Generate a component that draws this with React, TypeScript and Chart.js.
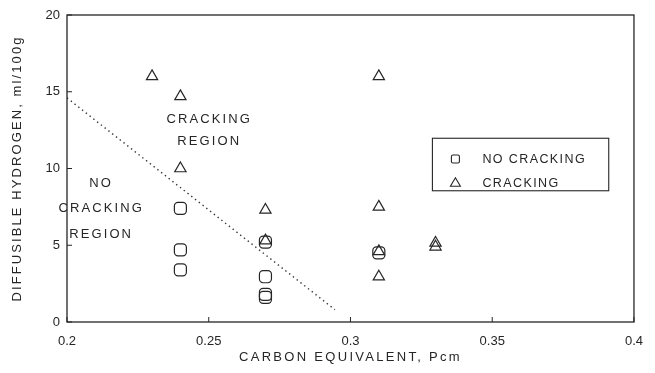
import React, { useEffect, useRef } from "react";
import { Chart, registerables } from "chart.js";

Chart.register(...registerables);

const noCrackX = [0.24, 0.24, 0.24, 0.27, 0.27, 0.27, 0.27, 0.31];
const noCrackY = [7.4, 4.7, 3.4, 5.2, 2.95, 1.8, 1.6, 4.5];
const crackX = [0.23, 0.24, 0.24, 0.27, 0.27, 0.31, 0.31, 0.31, 0.31, 0.33, 0.33];
const crackY = [16, 14.7, 10, 7.3, 5.3, 16, 7.5, 4.6, 2.95, 5.15, 4.9];
const boundaryX = [0.2, 0.2945];
const boundaryY = [14.6, 0.8];
const xTicks = [0.2, 0.25, 0.3, 0.35, 0.4];
const yTicks = [0, 5, 10, 15, 20];
const seriesLabels = ["NO CRACKING", "CRACKING"];

const INK = "#262626";
const FONT = "Liberation Sans, Arial, sans-serif";

const spacingPlugin = {
  id: "titleSpacing",
  beforeDraw(chart: any) {
    Object.values(chart.scales).forEach((s: any) => {
      if (s.__patched) return;
      const orig = s.drawTitle.bind(s);
      s.drawTitle = function () {
        const ctx = chart.ctx;
        ctx.save();
        ctx.letterSpacing = s.axis === "x" ? "2.3px" : "2.1px";
        orig();
        ctx.restore();
      };
      s.__patched = true;
    });
  },
};

const decorPlugin = {
  id: "decor",
  afterDatasetsDraw(chart: any) {
    const { ctx, chartArea, scales } = chart;
    const xs = scales.x;
    const ys = scales.y;
    ctx.save();
    // frame
    ctx.strokeStyle = INK;
    ctx.lineWidth = 1.3;
    ctx.strokeRect(chartArea.left, chartArea.top, chartArea.right - chartArea.left, chartArea.bottom - chartArea.top);
    // inward ticks
    ctx.lineWidth = 1;
    xTicks.forEach((v) => {
      const px = xs.getPixelForValue(v);
      ctx.beginPath();
      ctx.moveTo(px, chartArea.bottom);
      ctx.lineTo(px, chartArea.bottom - 5);
      ctx.stroke();
    });
    yTicks.forEach((v) => {
      const py = ys.getPixelForValue(v);
      ctx.beginPath();
      ctx.moveTo(chartArea.left, py);
      ctx.lineTo(chartArea.left + 5, py);
      ctx.stroke();
    });
    // region annotations
    ctx.fillStyle = INK;
    ctx.font = `13px ${FONT}`;
    ctx.textAlign = "center";
    ctx.textBaseline = "middle";
    (ctx as any).letterSpacing = "2.1px";
    const ax1 = xs.getPixelForValue(0.2498) + 1;
    ctx.fillText("CRACKING", ax1, ys.getPixelForValue(13.2));
    ctx.fillText("REGION", ax1, ys.getPixelForValue(11.75));
    const ax2 = xs.getPixelForValue(0.2117) + 1;
    ctx.fillText("NO", ax2, ys.getPixelForValue(9.06));
    ctx.fillText("CRACKING", ax2, ys.getPixelForValue(7.43));
    ctx.fillText("REGION", ax2, ys.getPixelForValue(5.73));
    // legend box
    const lx = xs.getPixelForValue(0.3289);
    const rx = xs.getPixelForValue(0.3911);
    const ty = ys.getPixelForValue(11.97);
    const by = ys.getPixelForValue(8.55);
    ctx.lineWidth = 1.1;
    ctx.strokeRect(lx, ty, rx - lx, by - ty);
    ctx.textAlign = "left";
    const rowY = [ys.getPixelForValue(10.62), ys.getPixelForValue(9.07)];
    const symX = lx + 23;
    ctx.lineWidth = 1.1;
    ctx.beginPath();
    ctx.roundRect(symX - 4, rowY[0] - 4, 8, 8, 1.5);
    ctx.stroke();
    ctx.beginPath();
    ctx.moveTo(symX, rowY[1] - 5);
    ctx.lineTo(symX + 5, rowY[1] + 3.5);
    ctx.lineTo(symX - 5, rowY[1] + 3.5);
    ctx.closePath();
    ctx.stroke();
    ctx.font = `12.5px ${FONT}`;
    (ctx as any).letterSpacing = "1.4px";
    ctx.fillText(seriesLabels[0], lx + 50, rowY[0] + 0.5);
    ctx.fillText(seriesLabels[1], lx + 50, rowY[1] + 0.5);
    ctx.restore();
  },
};

export default function App() {
  const ref = useRef<HTMLCanvasElement | null>(null);
  useEffect(() => {
    if (!ref.current) return;
    const chart = new Chart(ref.current, {
      type: "scatter",
      data: {
        datasets: [
          {
            label: seriesLabels[0],
            data: noCrackX.map((x, i) => ({ x, y: noCrackY[i] })),
            pointStyle: "rectRounded",
            pointRadius: 7,
            borderColor: INK,
            backgroundColor: "rgba(0,0,0,0)",
            borderWidth: 1.2,
          },
          {
            label: seriesLabels[1],
            data: crackX.map((x, i) => ({ x, y: crackY[i] })),
            pointStyle: "triangle",
            pointRadius: 6.5,
            borderColor: INK,
            backgroundColor: "rgba(0,0,0,0)",
            borderWidth: 1.2,
          },
          {
            label: "boundary",
            data: boundaryX.map((x, i) => ({ x, y: boundaryY[i] })),
            showLine: true,
            pointRadius: 0,
            borderColor: "#333",
            borderWidth: 1.4,
            borderDash: [1.4, 3.4],
          },
        ],
      },
      options: {
        animation: false,
        responsive: true,
        maintainAspectRatio: false,
        layout: { padding: { top: 15, right: 20, left: 0, bottom: 0 } },
        plugins: { legend: { display: false }, tooltip: { enabled: false } },
        scales: {
          x: {
            type: "linear",
            min: 0.2,
            max: 0.4,
            afterBuildTicks: (s: any) => {
              s.ticks = xTicks.map((v) => ({ value: v }));
            },
            afterFit: (s: any) => {
              s.height = 51;
            },
            grid: { display: false, drawTicks: false },
            border: { display: false },
            ticks: {
              color: INK,
              padding: 12,
              maxRotation: 0,
              font: { family: FONT, size: 13 },
              callback: (v: any) => String(v),
            },
            title: {
              display: true,
              text: "CARBON EQUIVALENT, Pcm",
              color: INK,
              font: { family: FONT, size: 13 },
              padding: { top: 4, bottom: 8 },
            },
          },
          y: {
            type: "linear",
            min: 0,
            max: 20,
            afterBuildTicks: (s: any) => {
              s.ticks = yTicks.map((v) => ({ value: v }));
            },
            afterFit: (s: any) => {
              s.width = 67;
            },
            grid: { display: false, drawTicks: false },
            border: { display: false },
            ticks: {
              color: INK,
              padding: 7,
              font: { family: FONT, size: 13 },
            },
            title: {
              display: true,
              text: "DIFFUSIBLE HYDROGEN, ml/100g",
              color: INK,
              font: { family: FONT, size: 13 },
              padding: { top: 10, bottom: 0 },
            },
          },
        },
      },
      plugins: [spacingPlugin, decorPlugin],
    });
    return () => chart.destroy();
  }, []);
  return (
    <div style={{ position: "fixed", left: 0, top: 0, width: 655, height: 373, background: "#fff" }}>
      <canvas ref={ref} />
    </div>
  );
}
